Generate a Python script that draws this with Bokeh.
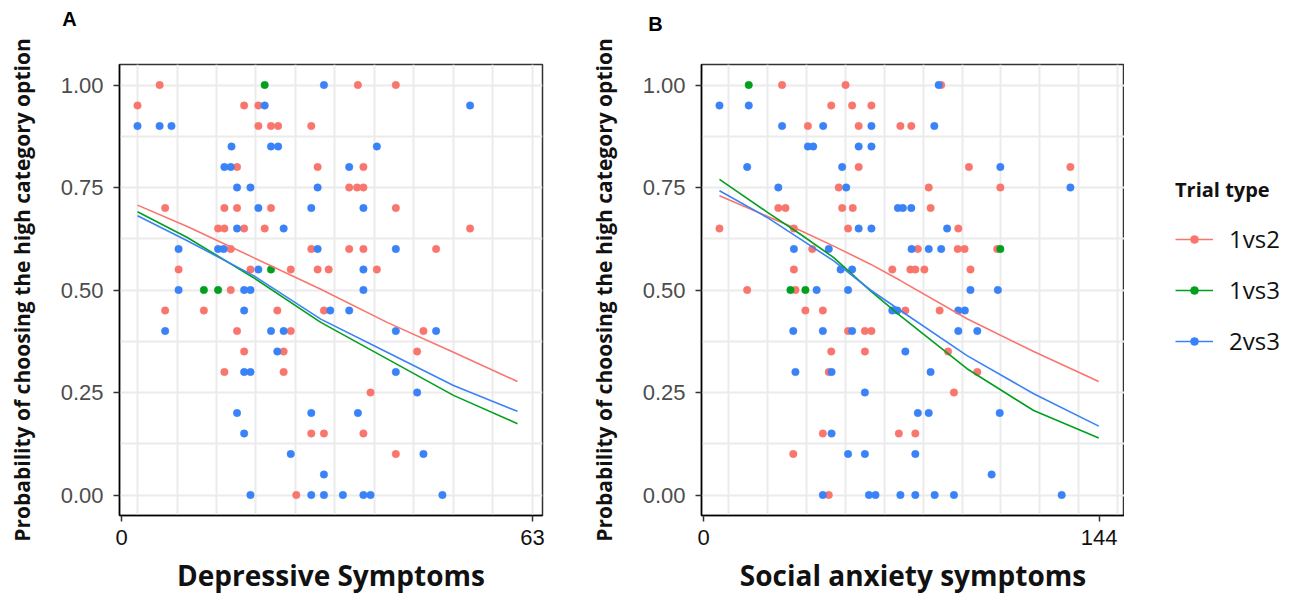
import numpy as np
from bokeh.plotting import figure
from bokeh.layouts import row, column
from bokeh.models import FixedTicker, NumeralTickFormatter, Legend, LegendItem, Label, Range1d
from bokeh.embed import file_html
from bokeh.resources import INLINE

groups = ["1vs2", "1vs3", "2vs3"]
colors = ["#f8766d", "#00a01e", "#3a82f7"]
panel_letters = ["A", "B"]

y_ticks = [0.0, 0.25, 0.5, 0.75, 1.0]
y_grid = [0.0, 0.125, 0.25, 0.375, 0.5, 0.625, 0.75, 0.875, 1.0]

# ---------------- Panel A : depressive symptoms ----------------
a_x_ticks = [3, 55]
a_x_labels = ["0", "63"]
a_x_grid = [5, 10, 15, 20, 25, 30, 35, 40, 45, 50, 55]

a_red_x = [7.8, 5.0, 18.5, 20.3, 20.3, 21.9, 22.8, 27.0, 17.6, 27.8, 8.5, 16.0, 17.6, 21.9,
           15.2, 16.0, 18.5, 21.1, 16.8, 27.0, 10.2, 19.3, 24.4, 27.8, 29.2, 16.8, 8.5, 13.4,
           22.7, 28.6, 17.6, 24.4, 18.5, 23.5, 16.0, 23.5, 27.0, 28.6, 25.1,
           32.9, 37.7, 33.6, 31.8, 32.8, 33.6, 37.7, 47.1, 31.8, 33.6, 42.8, 35.3, 41.2, 40.4,
           34.5, 33.6, 37.7]
a_red_y = [1.00, 0.95, 0.95, 0.95, 0.90, 0.90, 0.90, 0.90, 0.80, 0.80, 0.70, 0.70, 0.70, 0.70,
           0.65, 0.65, 0.65, 0.65, 0.60, 0.60, 0.55, 0.55, 0.55, 0.55, 0.55, 0.50, 0.45, 0.45,
           0.45, 0.45, 0.40, 0.40, 0.35, 0.35, 0.30, 0.30, 0.15, 0.15, 0.00,
           1.00, 1.00, 0.80, 0.75, 0.75, 0.75, 0.70, 0.65, 0.60, 0.60, 0.60, 0.55, 0.40, 0.35,
           0.25, 0.15, 0.10]
a_green_x = [21.1, 21.9, 13.4, 15.2]
a_green_y = [1.00, 0.55, 0.50, 0.50]
a_blue_x = [28.6, 21.1, 5.0, 7.8, 9.3, 16.9, 21.9, 22.8, 16.0, 16.8, 17.6, 19.3, 27.8, 20.3,
            27.0, 17.6, 23.5, 10.2, 15.2, 15.9, 27.8, 20.3, 10.2, 18.5, 19.3, 18.5, 29.4, 8.5,
            21.9, 23.5, 22.7, 18.5, 19.3, 17.6, 27.0, 18.5, 24.4, 28.6, 19.3, 27.0, 28.6,
            47.1, 35.3, 31.8, 33.6, 37.7, 33.6, 33.6, 31.8, 37.7, 42.8, 37.7, 40.4, 32.9, 41.2,
            31.0, 33.6, 34.5, 43.6]
a_blue_y = [1.00, 0.95, 0.90, 0.90, 0.90, 0.85, 0.85, 0.85, 0.80, 0.80, 0.75, 0.75, 0.75, 0.70,
            0.70, 0.65, 0.65, 0.60, 0.60, 0.60, 0.60, 0.55, 0.50, 0.50, 0.50, 0.45, 0.45, 0.40,
            0.40, 0.40, 0.35, 0.30, 0.30, 0.20, 0.20, 0.15, 0.10, 0.05, 0.00, 0.00, 0.00,
            0.95, 0.85, 0.80, 0.70, 0.60, 0.55, 0.50, 0.45, 0.40, 0.40, 0.30, 0.25, 0.20, 0.10,
            0.00, 0.00, 0.00, 0.00]

a_fit_x = [5.0, 11.3, 19.7, 28.2, 36.6, 45.0, 53.1]
a_fit_red = [0.707, 0.655, 0.579, 0.502, 0.421, 0.348, 0.277]
a_fit_green = [0.691, 0.628, 0.530, 0.421, 0.332, 0.243, 0.174]
a_fit_blue = [0.681, 0.620, 0.535, 0.429, 0.348, 0.267, 0.204]

# ---------------- Panel B : social anxiety symptoms ----------------
b_x_ticks = [4.5, 131.5]
b_x_labels = ["0", "144"]
b_x_grid = [12.5, 25, 37.5, 50, 62.5, 75, 87.5, 100, 112.5, 125, 137.5]

b_red_x = [29.7, 50.1, 80.8, 45.5, 52.2, 58.4, 38.0, 54.3, 67.7, 71.2, 54.3, 89.7, 122.3, 47.9,
           76.8, 99.8, 28.5, 30.8, 49.0, 52.4, 77.4, 9.6, 33.5, 50.9, 86.3, 39.4, 73.3, 86.1,
           88.3, 98.8, 33.5, 65.1, 70.9, 72.5, 75.4, 90.2, 18.5, 34.0, 37.2, 42.8, 69.3, 80.3,
           50.9, 56.3, 58.4, 45.5, 56.3, 83.0, 44.7, 92.4, 84.9, 42.8, 67.2, 72.5, 33.3, 44.7]
b_red_y = [1.00, 1.00, 1.00, 0.95, 0.95, 0.95, 0.90, 0.90, 0.90, 0.90, 0.80, 0.80, 0.80, 0.75,
           0.75, 0.75, 0.70, 0.70, 0.70, 0.70, 0.70, 0.65, 0.65, 0.65, 0.65, 0.60, 0.60, 0.60,
           0.60, 0.60, 0.55, 0.55, 0.55, 0.55, 0.55, 0.55, 0.50, 0.50, 0.45, 0.45, 0.45, 0.45,
           0.40, 0.40, 0.40, 0.35, 0.35, 0.35, 0.30, 0.30, 0.25, 0.15, 0.15, 0.15, 0.10, 0.00]
b_green_x = [19.0, 32.4, 37.2, 99.8]
b_green_y = [1.00, 0.50, 0.50, 0.60]
b_blue_x = [80.0, 9.6, 19.0, 29.7, 42.9, 58.4, 78.6, 38.0, 39.7, 54.3, 58.4, 18.5, 49.0, 99.8,
            28.5, 50.3, 122.3, 66.9, 68.5, 71.2, 54.3, 58.4, 82.7, 33.5, 44.7, 71.3, 76.8, 80.8,
            48.5, 52.2, 40.8, 50.9, 90.2, 99.0, 65.1, 66.7, 86.3, 88.4, 33.3, 42.8, 52.2, 86.3,
            92.4, 69.3, 34.0, 45.6, 77.4, 56.3, 73.3, 76.8, 99.6, 45.6, 50.9, 56.3, 72.5, 97.0,
            42.8, 57.6, 59.7, 67.7, 72.5, 78.7, 84.9, 119.5]
b_blue_y = [1.00, 0.95, 0.95, 0.90, 0.90, 0.90, 0.90, 0.85, 0.85, 0.85, 0.85, 0.80, 0.80, 0.80,
            0.75, 0.75, 0.75, 0.70, 0.70, 0.70, 0.65, 0.65, 0.65, 0.60, 0.60, 0.60, 0.60, 0.60,
            0.55, 0.55, 0.50, 0.50, 0.50, 0.50, 0.45, 0.45, 0.45, 0.45, 0.40, 0.40, 0.40, 0.40,
            0.40, 0.35, 0.30, 0.30, 0.30, 0.25, 0.20, 0.20, 0.20, 0.15, 0.10, 0.10, 0.10, 0.05,
            0.00, 0.00, 0.00, 0.00, 0.00, 0.00, 0.00, 0.00]

b_fit_x = [9.6, 24.9, 35.6, 46.3, 58.1, 67.7, 89.1, 110.5, 131.4]
b_fit_red = [0.730, 0.680, 0.645, 0.607, 0.563, 0.523, 0.430, 0.350, 0.277]
b_fit_green = [0.770, 0.690, 0.636, 0.579, 0.498, 0.437, 0.308, 0.206, 0.139]
b_fit_blue = [0.742, 0.677, 0.624, 0.571, 0.500, 0.450, 0.340, 0.247, 0.168]

HEAD = 36          # header strip with the panel letters
H = 602 - HEAD     # height of the panel row


def make_panel(width, left, right, xr, x_grid, x_ticks, x_labels, x_title, pts, fit_x, fits):
    p = figure(width=width, height=H, x_range=xr, y_range=(-0.05, 1.05),
               min_border_left=left, min_border_right=right, min_border_top=64 - HEAD,
               min_border_bottom=87, output_backend="svg", toolbar_location=None)
    p.background_fill_color = "white"
    p.border_fill_color = "white"
    p.outline_line_color = "#333333"
    p.outline_line_width = 1.5

    p.xgrid.ticker = FixedTicker(ticks=x_grid)
    p.ygrid.ticker = FixedTicker(ticks=y_grid)
    for g in (p.xgrid, p.ygrid):
        g.grid_line_color = "#ebebeb"
        g.grid_line_width = 2

    p.yaxis.ticker = FixedTicker(ticks=y_ticks)
    p.yaxis.formatter = NumeralTickFormatter(format="0.00")
    p.yaxis.major_label_text_color = "#4d4d4d"
    p.yaxis.major_label_text_font = "Liberation Sans"
    p.yaxis.major_label_text_font_size = "22px"
    p.yaxis.major_label_standoff = 10
    p.yaxis.axis_label = "Probability of choosing the high category option"
    p.yaxis.axis_label_text_font = "Open Sans"
    p.yaxis.axis_label_text_font_style = "bold"
    p.yaxis.axis_label_text_font_size = "21px"
    p.yaxis.axis_label_text_color = "#111111"
    p.yaxis.axis_label_standoff = 22

    p.xaxis.ticker = FixedTicker(ticks=x_ticks)
    p.xaxis.major_label_overrides = dict(zip(x_ticks, x_labels))
    p.xaxis.major_label_text_font = "Liberation Sans"
    p.xaxis.major_label_text_font_size = "22px"
    p.xaxis.major_label_text_color = "#111111"
    p.xaxis.major_label_standoff = 8
    p.xaxis.axis_label = x_title
    p.xaxis.axis_label_text_font = "Open Sans"
    p.xaxis.axis_label_text_font_style = "bold"
    p.xaxis.axis_label_text_font_size = "28px"
    p.xaxis.axis_label_text_color = "#111111"
    p.xaxis.axis_label_standoff = 8

    for ax in (p.xaxis, p.yaxis):
        ax.axis_line_color = "black"
        ax.axis_line_width = 1.5
        ax.major_tick_line_color = "#333333"
        ax.major_tick_line_width = 1.5
        ax.major_tick_out = 6
        ax.major_tick_in = 0
        ax.minor_tick_line_color = None

    for (xs, ys), c in zip(pts, colors):
        p.scatter(xs, ys, size=7.5, fill_color=c, line_color=c, line_width=0.5)
    for ys, c in zip(fits, colors):
        p.line(fit_x, ys, line_color=c, line_width=1.6)
    return p


pA = make_panel(582, 119, 40, (2.72, 56.27), a_x_grid, a_x_ticks, a_x_labels,
                "Depressive Symptoms",
                [(a_red_x, a_red_y), (a_green_x, a_green_y), (a_blue_x, a_blue_y)],
                a_fit_x, [a_fit_red, a_fit_green, a_fit_blue])
pB = make_panel(542, 119, 0, (3.83, 139.67), b_x_grid, b_x_ticks, b_x_labels,
                "Social anxiety symptoms",
                [(b_red_x, b_red_y), (b_green_x, b_green_y), (b_blue_x, b_blue_y)],
                b_fit_x, [b_fit_red, b_fit_green, b_fit_blue])

# ---------------- legend strip on the right ----------------
pL = figure(width=174, height=H, x_range=(0, 1), y_range=(0, 1),
            x_axis_location=None, y_axis_location=None, min_border=0,
            output_backend="svg", toolbar_location=None)
pL.grid.visible = False
pL.outline_line_color = None
pL.background_fill_color = "white"
pL.border_fill_color = "white"
items = []
for g, c in zip(groups, colors):
    # legend proxies: NaN data, nothing is drawn in the strip itself
    ln = pL.line(x=[np.nan], y=[np.nan], line_color=c, line_width=1.6)
    sc = pL.scatter(x=[np.nan], y=[np.nan], size=7.5, fill_color=c, line_color=c,
                    line_width=0.5)
    items.append(LegendItem(label=g, renderers=[ln, sc]))
legend = Legend(items=items, location=(51, 158), title="Trial type",
                title_text_font="Open Sans", title_text_font_style="bold",
                title_text_font_size="20px", title_text_color="#111111", title_standoff=19,
                label_text_font="Open Sans", label_text_font_size="24px",
                label_text_color="#111111", glyph_width=38, glyph_height=20,
                label_height=20, spacing=18, padding=0, margin=0,
                border_line_color=None, background_fill_alpha=0, label_standoff=16)
pL.add_layout(legend)

# ---------------- header strip with panel letters ----------------
pH = figure(width=1298, height=HEAD, x_range=Range1d(0, 1298), y_range=Range1d(HEAD, 0),
            x_axis_location=None, y_axis_location=None, min_border=0,
            output_backend="svg", toolbar_location=None)
pH.grid.visible = False
pH.outline_line_color = None
pH.background_fill_color = "white"
pH.border_fill_color = "white"
for letter, lx, ly in zip(panel_letters, [69, 655], [18, 23]):
    pH.add_layout(Label(x=lx, y=ly, text=letter, text_align="center", text_baseline="middle",
                        text_font="Liberation Sans", text_font_style="bold",
                        text_font_size="20px", text_color="black"))

layout = column(pH, row(pA, pB, pL, spacing=0), spacing=0)
open("out.html", "w").write(file_html(layout, INLINE))
